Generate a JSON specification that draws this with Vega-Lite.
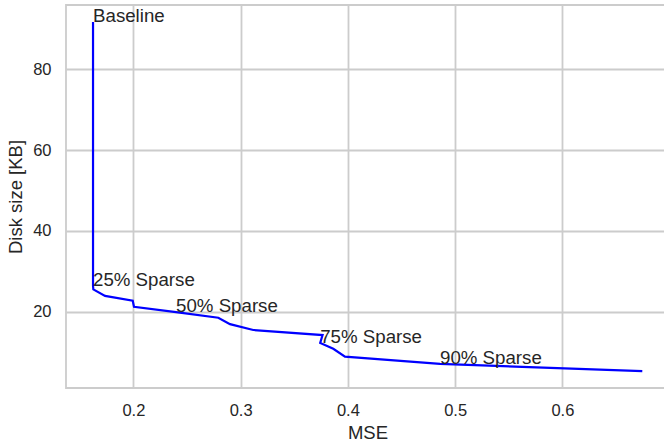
{
  "$schema": "https://vega.github.io/schema/vega-lite/v6.json",
  "width": 603,
  "height": 383,
  "autosize": {"type": "none"},
  "padding": {"left": 66, "top": 5, "right": 0, "bottom": 59},
  "background": "white",
  "config": {
    "font": "Liberation Sans",
    "view": {"stroke": "#cccccc", "strokeWidth": 1.8},
    "axis": {
      "domain": false,
      "ticks": false,
      "grid": true,
      "gridColor": "#cccccc",
      "gridWidth": 1.8,
      "labelColor": "#262626",
      "labelFontSize": 16.5,
      "titleColor": "#262626",
      "titleFontSize": 18.5,
      "titleFontWeight": "normal"
    }
  },
  "data": {
    "values": [
      {"step": 1, "mse": 0.1624, "kb": 91.7, "label": "Baseline"},
      {"step": 2, "mse": 0.1624, "kb": 26.35, "label": "25% Sparse"},
      {"step": 3, "mse": 0.1627, "kb": 25.5, "label": null},
      {"step": 4, "mse": 0.1736, "kb": 23.9, "label": null},
      {"step": 5, "mse": 0.1994, "kb": 22.7, "label": null},
      {"step": 6, "mse": 0.2006, "kb": 21.2, "label": null},
      {"step": 7, "mse": 0.2398, "kb": 19.9, "label": "50% Sparse"},
      {"step": 8, "mse": 0.2792, "kb": 18.5, "label": null},
      {"step": 9, "mse": 0.2901, "kb": 16.9, "label": null},
      {"step": 10, "mse": 0.3118, "kb": 15.45, "label": null},
      {"step": 11, "mse": 0.3764, "kb": 14.2, "label": null},
      {"step": 12, "mse": 0.3742, "kb": 12.25, "label": "75% Sparse"},
      {"step": 13, "mse": 0.3864, "kb": 10.8, "label": null},
      {"step": 14, "mse": 0.3973, "kb": 8.85, "label": null},
      {"step": 15, "mse": 0.4859, "kb": 7.05, "label": "90% Sparse"},
      {"step": 16, "mse": 0.6745, "kb": 5.3, "label": null}
    ]
  },
  "encoding": {
    "x": {
      "field": "mse",
      "type": "quantitative",
      "title": "MSE",
      "scale": {"domain": [0.1372, 0.6994], "nice": false, "zero": false},
      "axis": {"values": [0.2, 0.3, 0.4, 0.5, 0.6], "format": ".1f", "labelPadding": 14, "titlePadding": 5}
    },
    "y": {
      "field": "kb",
      "type": "quantitative",
      "title": "Disk size [KB]",
      "scale": {"domain": [1.1, 95.9], "nice": false, "zero": false},
      "axis": {"values": [20, 40, 60, 80], "format": "d", "labelPadding": 15, "titlePadding": 7}
    }
  },
  "layer": [
    {
      "mark": {"type": "line", "color": "#0000ff", "strokeWidth": 2.2, "strokeJoin": "miter"},
      "encoding": {"order": {"field": "step", "type": "quantitative"}}
    },
    {
      "transform": [{"filter": "datum.label != null"}],
      "mark": {"type": "text", "align": "left", "baseline": "alphabetic", "fontSize": 18.7, "color": "#262626"},
      "encoding": {"text": {"field": "label"}}
    }
  ]
}
